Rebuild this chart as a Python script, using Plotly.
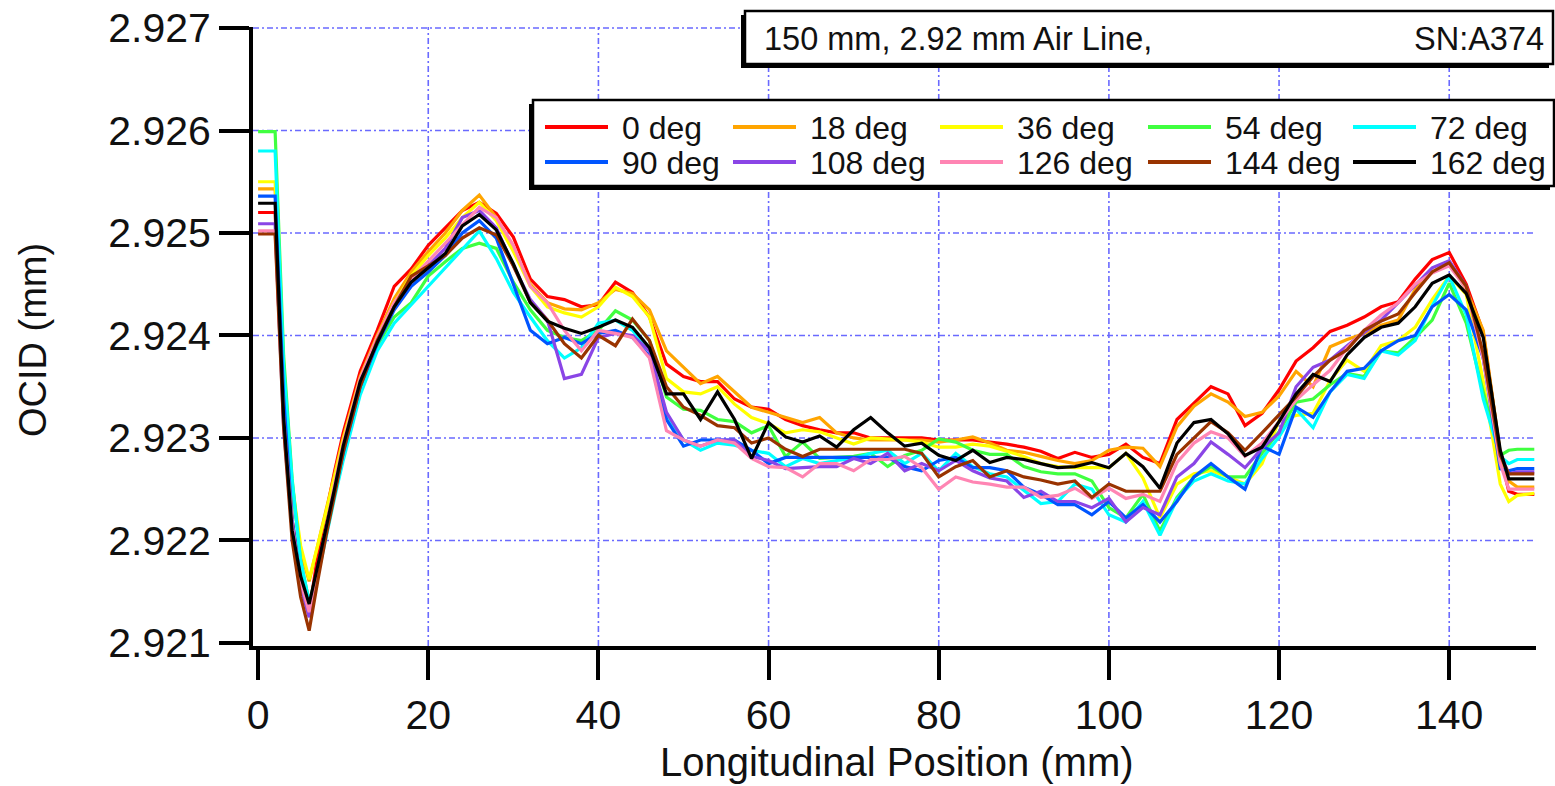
import plotly.graph_objects as go

# ---------------- data ----------------
POSITION_MM = [0, 1, 2, 3, 4, 5, 6, 7, 8, 9, 10,
               12, 14, 16, 18, 20, 22, 24, 26, 28, 30,
               32, 34, 36, 38, 40, 42, 44, 46, 48, 50,
               52, 54, 56, 58, 60, 62, 64, 66, 68, 70,
               72, 74, 76, 78, 80, 82, 84, 86, 88, 90,
               92, 94, 96, 98, 100, 102, 104, 106, 108, 110,
               112, 114, 116, 118, 120, 122, 124, 126, 128, 130,
               132, 134, 136, 138, 140, 142, 144, 146, 147, 148, 150]

deg_0 = [2.92520, 2.92520, 2.92520, 2.92330, 2.92220, 2.92165, 2.92130, 2.92185, 2.92228, 2.92268, 2.92305,
         2.92365, 2.92405, 2.92448, 2.92465, 2.92488, 2.92505, 2.92522, 2.92530, 2.92519, 2.92496,
         2.92455, 2.92438, 2.92435, 2.92428, 2.92430, 2.92452, 2.92442, 2.92418, 2.92372, 2.92360,
         2.92355, 2.92355, 2.92338, 2.92330, 2.92328, 2.92318, 2.92312, 2.92308, 2.92305, 2.92305,
         2.92300, 2.92300, 2.92300, 2.92300, 2.92298, 2.92298, 2.92298, 2.92296, 2.92294, 2.92291,
         2.92287, 2.92280, 2.92286, 2.92281, 2.92284, 2.92294, 2.92281, 2.92275, 2.92318, 2.92334,
         2.92350, 2.92343, 2.92312, 2.92324, 2.92347, 2.92375, 2.92388, 2.92404, 2.92410, 2.92418,
         2.92428, 2.92433, 2.92455, 2.92474, 2.92481, 2.92450, 2.92403, 2.92284, 2.92248, 2.92245, 2.92245]

deg_18 = [2.92543, 2.92543, 2.92543, 2.92350, 2.92250, 2.92190, 2.92160, 2.92195, 2.92230, 2.92265, 2.92300,
          2.92360, 2.92400, 2.92436, 2.92462, 2.92482, 2.92500, 2.92522, 2.92537, 2.92515, 2.92485,
          2.92450, 2.92432, 2.92426, 2.92425, 2.92432, 2.92445, 2.92441, 2.92425, 2.92385, 2.92369,
          2.92353, 2.92360, 2.92345, 2.92330, 2.92325, 2.92320, 2.92315, 2.92320, 2.92305, 2.92300,
          2.92298, 2.92298, 2.92298, 2.92298, 2.92296, 2.92298, 2.92301, 2.92295, 2.92288, 2.92286,
          2.92282, 2.92278, 2.92275, 2.92278, 2.92288, 2.92291, 2.92290, 2.92272, 2.92311, 2.92331,
          2.92343, 2.92335, 2.92321, 2.92325, 2.92341, 2.92365, 2.92350, 2.92389, 2.92396, 2.92402,
          2.92410, 2.92415, 2.92445, 2.92462, 2.92471, 2.92445, 2.92405, 2.92285, 2.92258, 2.92252, 2.92252]

deg_36 = [2.92550, 2.92550, 2.92550, 2.92360, 2.92255, 2.92195, 2.92162, 2.92195, 2.92228, 2.92262, 2.92298,
          2.92358, 2.92398, 2.92432, 2.92458, 2.92478, 2.92495, 2.92515, 2.92530, 2.92512, 2.92482,
          2.92448, 2.92428, 2.92422, 2.92418, 2.92428, 2.92447, 2.92438, 2.92418, 2.92358, 2.92345,
          2.92343, 2.92350, 2.92333, 2.92320, 2.92314, 2.92305, 2.92308, 2.92306, 2.92300, 2.92294,
          2.92300, 2.92299, 2.92298, 2.92296, 2.92291, 2.92291, 2.92294, 2.92292, 2.92287, 2.92282,
          2.92275, 2.92272, 2.92271, 2.92271, 2.92271, 2.92285, 2.92261, 2.92222, 2.92255, 2.92265,
          2.92268, 2.92262, 2.92255, 2.92275, 2.92317, 2.92322, 2.92324, 2.92356, 2.92376, 2.92365,
          2.92390, 2.92395, 2.92408, 2.92435, 2.92458, 2.92440, 2.92355, 2.92255, 2.92238, 2.92244, 2.92246]

deg_54 = [2.92599, 2.92599, 2.92599, 2.92380, 2.92260, 2.92180, 2.92140, 2.92170, 2.92210, 2.92248, 2.92285,
          2.92348, 2.92390, 2.92418, 2.92432, 2.92458, 2.92472, 2.92485, 2.92490, 2.92485, 2.92452,
          2.92425, 2.92405, 2.92398, 2.92395, 2.92405, 2.92424, 2.92415, 2.92395, 2.92340, 2.92328,
          2.92327, 2.92318, 2.92316, 2.92305, 2.92312, 2.92282, 2.92296, 2.92280, 2.92281, 2.92282,
          2.92285, 2.92272, 2.92283, 2.92288, 2.92299, 2.92296, 2.92288, 2.92284, 2.92284, 2.92272,
          2.92267, 2.92265, 2.92265, 2.92258, 2.92232, 2.92222, 2.92245, 2.92209, 2.92242, 2.92262,
          2.92272, 2.92262, 2.92262, 2.92285, 2.92306, 2.92335, 2.92338, 2.92352, 2.92363, 2.92360,
          2.92385, 2.92383, 2.92398, 2.92415, 2.92451, 2.92412, 2.92345, 2.92283, 2.92288, 2.92289, 2.92289]

deg_72 = [2.92580, 2.92580, 2.92580, 2.92370, 2.92258, 2.92180, 2.92140, 2.92165, 2.92205, 2.92242, 2.92278,
          2.92342, 2.92385, 2.92412, 2.92430, 2.92448, 2.92466, 2.92484, 2.92502, 2.92475, 2.92442,
          2.92418, 2.92395, 2.92378, 2.92388, 2.92412, 2.92415, 2.92405, 2.92385, 2.92322, 2.92298,
          2.92288, 2.92295, 2.92293, 2.92288, 2.92285, 2.92272, 2.92280, 2.92275, 2.92278, 2.92280,
          2.92285, 2.92288, 2.92275, 2.92285, 2.92268, 2.92285, 2.92272, 2.92265, 2.92262, 2.92249,
          2.92236, 2.92238, 2.92255, 2.92250, 2.92225, 2.92218, 2.92238, 2.92205, 2.92240, 2.92258,
          2.92265, 2.92258, 2.92255, 2.92280, 2.92301, 2.92328, 2.92310, 2.92345, 2.92362, 2.92358,
          2.92385, 2.92381, 2.92395, 2.92429, 2.92458, 2.92420, 2.92338, 2.92282, 2.92275, 2.92279, 2.92279]

deg_90 = [2.92536, 2.92536, 2.92536, 2.92340, 2.92220, 2.92160, 2.92132, 2.92172, 2.92212, 2.92248, 2.92285,
          2.92350, 2.92392, 2.92425, 2.92448, 2.92462, 2.92478, 2.92500, 2.92512, 2.92495, 2.92450,
          2.92405, 2.92392, 2.92398, 2.92392, 2.92402, 2.92405, 2.92398, 2.92380, 2.92318, 2.92292,
          2.92298, 2.92298, 2.92298, 2.92288, 2.92275, 2.92281, 2.92281, 2.92281, 2.92281, 2.92281,
          2.92281, 2.92281, 2.92272, 2.92268, 2.92278, 2.92281, 2.92271, 2.92271, 2.92268, 2.92252,
          2.92245, 2.92235, 2.92235, 2.92225, 2.92238, 2.92222, 2.92235, 2.92218, 2.92238, 2.92262,
          2.92275, 2.92262, 2.92250, 2.92292, 2.92284, 2.92330, 2.92320, 2.92345, 2.92365, 2.92368,
          2.92385, 2.92395, 2.92400, 2.92428, 2.92440, 2.92425, 2.92378, 2.92270, 2.92268, 2.92270, 2.92270]

deg_108 = [2.92509, 2.92509, 2.92509, 2.92310, 2.92210, 2.92155, 2.92125, 2.92170, 2.92210, 2.92248, 2.92288,
           2.92352, 2.92394, 2.92428, 2.92452, 2.92468, 2.92485, 2.92515, 2.92522, 2.92505, 2.92468,
           2.92435, 2.92415, 2.92358, 2.92362, 2.92398, 2.92402, 2.92400, 2.92385, 2.92325, 2.92298,
           2.92292, 2.92298, 2.92298, 2.92282, 2.92278, 2.92270, 2.92271, 2.92272, 2.92272, 2.92280,
           2.92275, 2.92285, 2.92268, 2.92275, 2.92268, 2.92278, 2.92268, 2.92261, 2.92258, 2.92242,
           2.92248, 2.92238, 2.92238, 2.92232, 2.92241, 2.92218, 2.92232, 2.92225, 2.92262, 2.92275,
           2.92296, 2.92284, 2.92271, 2.92290, 2.92305, 2.92350, 2.92369, 2.92376, 2.92390, 2.92403,
           2.92415, 2.92432, 2.92448, 2.92466, 2.92473, 2.92448, 2.92378, 2.92285, 2.92265, 2.92267, 2.92267]

deg_126 = [2.92502, 2.92502, 2.92502, 2.92320, 2.92215, 2.92160, 2.92130, 2.92172, 2.92215, 2.92255, 2.92295,
           2.92358, 2.92398, 2.92432, 2.92455, 2.92472, 2.92490, 2.92508, 2.92525, 2.92515, 2.92488,
           2.92448, 2.92432, 2.92405, 2.92385, 2.92405, 2.92402, 2.92398, 2.92378, 2.92307, 2.92298,
           2.92292, 2.92298, 2.92295, 2.92280, 2.92272, 2.92271, 2.92262, 2.92275, 2.92275, 2.92268,
           2.92279, 2.92279, 2.92282, 2.92271, 2.92250, 2.92262, 2.92257, 2.92255, 2.92252, 2.92252,
           2.92242, 2.92244, 2.92251, 2.92241, 2.92251, 2.92241, 2.92245, 2.92238, 2.92276, 2.92295,
           2.92306, 2.92300, 2.92282, 2.92295, 2.92316, 2.92337, 2.92352, 2.92366, 2.92388, 2.92405,
           2.92420, 2.92432, 2.92450, 2.92461, 2.92468, 2.92446, 2.92378, 2.92275, 2.92250, 2.92250, 2.92250]

deg_144 = [2.92499, 2.92499, 2.92499, 2.92310, 2.92200, 2.92145, 2.92112, 2.92160, 2.92205, 2.92245, 2.92286,
           2.92350, 2.92395, 2.92428, 2.92458, 2.92468, 2.92478, 2.92495, 2.92505, 2.92498, 2.92468,
           2.92432, 2.92415, 2.92392, 2.92378, 2.92400, 2.92390, 2.92416, 2.92395, 2.92350, 2.92330,
           2.92322, 2.92312, 2.92310, 2.92295, 2.92300, 2.92289, 2.92282, 2.92289, 2.92289, 2.92289,
           2.92289, 2.92289, 2.92289, 2.92285, 2.92262, 2.92272, 2.92278, 2.92262, 2.92268, 2.92262,
           2.92259, 2.92255, 2.92258, 2.92242, 2.92255, 2.92248, 2.92248, 2.92248, 2.92284, 2.92300,
           2.92316, 2.92305, 2.92288, 2.92305, 2.92322, 2.92340, 2.92360, 2.92376, 2.92386, 2.92405,
           2.92414, 2.92421, 2.92442, 2.92462, 2.92471, 2.92448, 2.92382, 2.92283, 2.92265, 2.92265, 2.92265]

deg_162 = [2.92529, 2.92529, 2.92529, 2.92320, 2.92210, 2.92165, 2.92138, 2.92175, 2.92212, 2.92251, 2.92292,
           2.92355, 2.92393, 2.92428, 2.92452, 2.92466, 2.92480, 2.92507, 2.92518, 2.92503, 2.92470,
           2.92432, 2.92414, 2.92407, 2.92402, 2.92408, 2.92415, 2.92408, 2.92388, 2.92343, 2.92343,
           2.92318, 2.92345, 2.92318, 2.92280, 2.92315, 2.92301, 2.92296, 2.92302, 2.92291, 2.92308,
           2.92320, 2.92305, 2.92292, 2.92295, 2.92283, 2.92278, 2.92288, 2.92276, 2.92281, 2.92279,
           2.92275, 2.92271, 2.92272, 2.92276, 2.92271, 2.92285, 2.92272, 2.92251, 2.92295, 2.92315,
           2.92318, 2.92304, 2.92283, 2.92291, 2.92316, 2.92343, 2.92362, 2.92355, 2.92381, 2.92398,
           2.92408, 2.92412, 2.92428, 2.92451, 2.92459, 2.92441, 2.92398, 2.92288, 2.92260, 2.92260, 2.92260]

SERIES_NAMES = ["0 deg", "18 deg", "36 deg", "54 deg", "72 deg",
                "90 deg", "108 deg", "126 deg", "144 deg", "162 deg"]
SERIES_VALUES = [deg_0, deg_18, deg_36, deg_54, deg_72,
                 deg_90, deg_108, deg_126, deg_144, deg_162]
SERIES_COLORS = ["#ff0000", "#ffa500", "#ffff00", "#40ff40", "#00ffff",
                 "#0055ff", "#8a45e6", "#ff85b3", "#993300", "#000000"]

X_TICKS = [0, 20, 40, 60, 80, 100, 120, 140]
Y_TICKS = [2.921, 2.922, 2.923, 2.924, 2.925, 2.926, 2.927]

TITLE_LEFT = "150 mm, 2.92 mm Air Line,"
TITLE_RIGHT = "SN:A374"
X_TITLE = "Longitudinal Position (mm)"
Y_TITLE = "OCID (mm)"

# ---------------- layout geometry (pixels) ----------------
W, H = 1555, 786
L, R, T, B = 253, 1536, 27, 646
X_RANGE = [-0.6, 150.2]
Y_RANGE = [2.92097, 2.92701]
FONT = "Liberation Sans, Arial, Helvetica, sans-serif"
TXT = "#111111"
GRID_COLOR = "#6a6aff"


def px(xp):
    return (xp - L) / (R - L)


def py(yp):
    return (B - yp) / (B - T)


fig = go.Figure()
for name, vals, col in zip(SERIES_NAMES, SERIES_VALUES, SERIES_COLORS):
    fig.add_trace(go.Scatter(x=POSITION_MM, y=vals, mode="lines", name=name,
                             line=dict(color=col, width=3.2), showlegend=False))

shapes = []
# grid lines (dash-dot, blue)
for xv in X_TICKS[1:]:
    shapes.append(dict(type="line", xref="x", yref="paper", x0=xv, x1=xv, y0=0, y1=1,
                       line=dict(color=GRID_COLOR, width=1.6, dash="6px,3px,2px,3px"),
                       layer="below"))
for yv in Y_TICKS[1:]:
    shapes.append(dict(type="line", xref="paper", yref="y", x0=0, x1=1, y0=yv, y1=yv,
                       line=dict(color=GRID_COLOR, width=1.6, dash="6px,3px,2px,3px"),
                       layer="below"))


def shadow_box(x0, y0, x1, y1, off=4):
    # black shadow offset down-left, then white box with thin border
    shapes.append(dict(type="rect", xref="paper", yref="paper",
                       x0=px(x0 - off), x1=px(x1 - off), y0=py(y1 + off), y1=py(y0 + off),
                       fillcolor="black", line=dict(width=0), layer="above"))
    shapes.append(dict(type="rect", xref="paper", yref="paper",
                       x0=px(x0), x1=px(x1), y0=py(y1), y1=py(y0),
                       fillcolor="white", line=dict(color="black", width=2.5), layer="above"))


shadow_box(745, 11, 1553, 64)
shadow_box(533, 100, 1554, 186)

annotations = []
annotations.append(dict(text=TITLE_LEFT, xref="paper", yref="paper", x=px(762), y=py(39),
                        xanchor="left", yanchor="middle", showarrow=False,
                        font=dict(family=FONT, size=32.5, color=TXT)))
annotations.append(dict(text=TITLE_RIGHT, xref="paper", yref="paper", x=px(1546), y=py(39),
                        xanchor="right", yanchor="middle", showarrow=False,
                        font=dict(family=FONT, size=32.5, color=TXT)))

# manual legend (5 columns x 2 rows)
col_x = [545, 733, 940, 1148, 1353]
row_y = [127, 162]
for i, (name, col) in enumerate(zip(SERIES_NAMES, SERIES_COLORS)):
    r, c = divmod(i, 5)
    x0 = col_x[c]
    yy = row_y[r]
    shapes.append(dict(type="line", xref="paper", yref="paper",
                       x0=px(x0), x1=px(x0 + 63), y0=py(yy), y1=py(yy),
                       line=dict(color=col, width=4), layer="above"))
    annotations.append(dict(text=name, xref="paper", yref="paper", x=px(x0 + 75), y=py(yy + 1),
                            xanchor="left", yanchor="middle", showarrow=False,
                            font=dict(family=FONT, size=32, color=TXT)))

# axis titles
annotations.append(dict(text=X_TITLE, xref="paper", yref="paper", x=px(897), y=py(762),
                        xanchor="center", yanchor="middle", showarrow=False,
                        font=dict(family=FONT, size=40, color=TXT)))
annotations.append(dict(text=Y_TITLE, xref="paper", yref="paper", x=px(33), y=py(340),
                        xanchor="center", yanchor="middle", showarrow=False, textangle=-90,
                        font=dict(family=FONT, size=38, color=TXT)))

fig.update_layout(
    width=W, height=H,
    margin=dict(l=L, r=W - R, t=T, b=H - B, pad=0),
    paper_bgcolor="white", plot_bgcolor="white",
    shapes=shapes, annotations=annotations,
    showlegend=False,
    font=dict(family=FONT, color=TXT),
    xaxis=dict(range=X_RANGE, tickvals=X_TICKS, showgrid=False, zeroline=False,
               showline=True, linecolor="black", linewidth=4,
               ticks="outside", ticklen=30, tickwidth=4, tickcolor="black",
               tickfont=dict(family=FONT, size=41, color=TXT), automargin=False),
    yaxis=dict(range=Y_RANGE, tickvals=Y_TICKS, tickformat=".3f", showgrid=False, zeroline=False,
               showline=True, linecolor="black", linewidth=4,
               ticks="outside", ticklen=30, tickwidth=4, tickcolor="black",
               tickfont=dict(family=FONT, size=41, color=TXT), automargin=False),
)

fig.write_html("out.html")
